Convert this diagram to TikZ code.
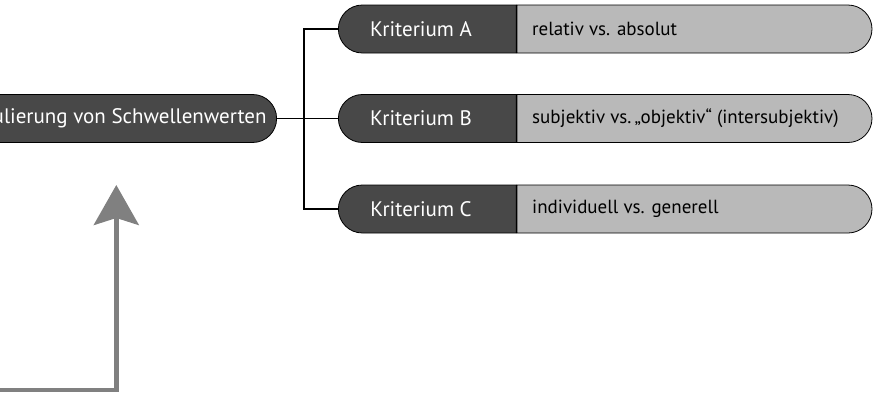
\documentclass[tikz,border=0pt]{standalone}
\usepackage{fontspec}
\setmainfont{PT Sans}
\usetikzlibrary{shapes.misc,arrows.meta}
\definecolor{darkfill}{HTML}{484848}
\definecolor{lightfill}{HTML}{B9B9B9}
\definecolor{arrowgray}{HTML}{808080}
\tikzset{
  darkbox/.style={rounded rectangle, rounded rectangle right arc=none, draw=black, line width=0.8pt,
    fill=darkfill, text=white, minimum width=178pt, minimum height=48pt, inner sep=0pt,
    font=\fontsize{21}{24}\selectfont},
  lightbox/.style={rounded rectangle, rounded rectangle left arc=none, draw=black, line width=0.8pt,
    fill=lightfill, text=black, minimum width=355pt, minimum height=48pt, inner sep=0pt},
  lighttext/.style={anchor=west, inner sep=0pt, text=black, font=\fontsize{19}{22}\selectfont},
  mainbox/.style={rectangle, rounded corners=23.9pt, draw=black, line width=0.8pt,
    fill=darkfill, text=white, minimum height=48pt, inner xsep=10pt,
    font=\fontsize{21}{24}\selectfont},
  conn/.style={draw=black, line width=1.4pt},
  bigarrow/.style={draw=arrowgray, line width=4.5pt,
    -{Stealth[length=40pt, width=45pt, inset=7pt]}}
}
\begin{document}
\begin{tikzpicture}[x=1pt,y=-1pt]
\useasboundingbox (0,0) rectangle (873,394);
\begin{scope}
\clip (0,0) rectangle (873,394);
% main node
\node[mainbox, anchor=east] (main) at (277,118.5) {Formulierung von Schwellenwerten};
% criteria
\node[lightbox] (la) at (694.5,29) {};
\node[lightbox] (lb) at (694.5,118.5) {};
\node[lightbox] (lc) at (694.5,209) {};
\node[darkbox] (ka) at (428,29) {Kriterium A\hspace*{14pt}};
\node[darkbox] (kb) at (428,118.5) {Kriterium B\hspace*{14pt}};
\node[darkbox] (kc) at (428,209) {Kriterium C\hspace*{14pt}};
\node[lighttext] (ta) at (532,29) {relativ vs. absolut};
\node[lighttext] (tb) at (532,118.5) {subjektiv vs.\,„objektiv“ (intersubjektiv)};
\node[lighttext] (tc) at (532,209) {individuell vs. generell};
% connectors
\coordinate (bend) at (304,118.5);
\draw[conn] (main.east) -- (bend);
\draw[conn] (ka.west) -- (ka.west -| bend) -- (kc.west -| bend) -- (kc.west);
\draw[conn] (bend) -- (kb.west);
% arrow
\coordinate (arrowstart) at (-5,390);
\coordinate (arrowcorner) at (116.3,390);
\coordinate (arrowtip) at (116.3,185);
\draw[bigarrow] (arrowstart) -- (arrowcorner) -- (arrowtip);
\end{scope}
\end{tikzpicture}
\end{document}
